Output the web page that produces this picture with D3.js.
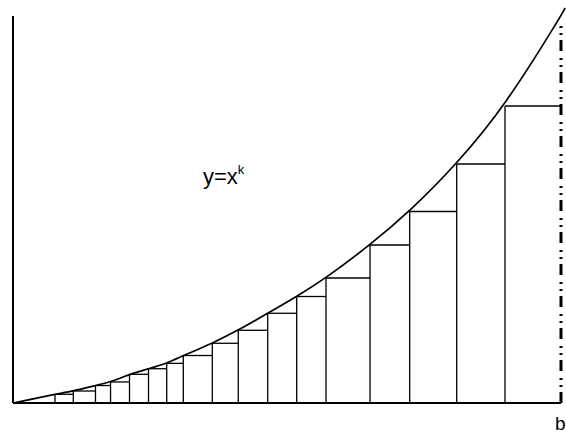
<!DOCTYPE html>
<html>
<head>
<meta charset="utf-8">
<script src="https://cdn.jsdelivr.net/npm/d3@7"></script>
<style>
  html, body { margin: 0; padding: 0; background: #fff; }
  svg { display: block; }
</style>
</head>
<body>
<svg id="chart" width="566" height="435"></svg>
<script>
// Partition points (fraction of b)
const partitionX = [0.0766, 0.110, 0.1505, 0.178, 0.2126, 0.2473, 0.2805, 0.3108, 0.3637, 0.4111,
                    0.4648, 0.5177, 0.5712, 0.6515, 0.7239, 0.8097, 0.8978, 1.0];
// Curve heights at those points (fraction of f(b))
const partitionY = [0.0225, 0.031, 0.0452, 0.0543, 0.0742, 0.0886, 0.1025, 0.1227, 0.1543, 0.1879,
                    0.2318, 0.2752, 0.323, 0.4083, 0.4948, 0.6176, 0.7674, 1.0];
// Curve continues a little past b
const curveEnd = [1.0073, 1.0207];
const bValue = 1.0;
const curveLabel = "y=x";
const curveLabelSup = "k";
const bLabel = "b";

const svg = d3.select("#chart");
const x = d3.scaleLinear().domain([0, 1]).range([13, 561]);
const y = d3.scaleLinear().domain([0, 1]).range([403, 16]);

// Curve points
const curvePts = [[0, 0]].concat(partitionX.map((d, i) => [d, partitionY[i]])).concat([curveEnd]);

// Vertical lines of partition (excluding b which is dash-dot)
const verts = partitionX.slice(0, -1).map((d, i) => ({x: d, h: partitionY[i]}));
svg.append("g").selectAll("line").data(verts).join("line")
  .attr("x1", d => x(d.x)).attr("x2", d => x(d.x))
  .attr("y1", y(0)).attr("y2", d => y(d.h))
  .attr("stroke", "#000").attr("stroke-width", 1.3);

// Horizontal tops: from x_i at height f(x_i) to x_{i+1}
const tops = partitionX.slice(0, -1).map((d, i) => ({x0: d, x1: partitionX[i + 1], h: partitionY[i]}));
svg.append("g").selectAll("line").data(tops).join("line")
  .attr("x1", d => x(d.x0)).attr("x2", d => x(d.x1))
  .attr("y1", d => y(d.h)).attr("y2", d => y(d.h))
  .attr("stroke", "#000").attr("stroke-width", 1.3);

// Dash-dot line at b
svg.append("line")
  .attr("x1", x(bValue)).attr("x2", x(bValue))
  .attr("y1", y(0)).attr("y2", y(0.98))
  .attr("stroke", "#000").attr("stroke-width", 3)
  .attr("stroke-dasharray", "11,5,2,5,2,7");

// Axes
svg.append("line")
  .attr("x1", x(0)).attr("x2", x(bValue))
  .attr("y1", y(0)).attr("y2", y(0))
  .attr("stroke", "#000").attr("stroke-width", 1.8);
svg.append("line")
  .attr("x1", x(0)).attr("x2", x(0))
  .attr("y1", y(0)).attr("y2", y(1))
  .attr("stroke", "#000").attr("stroke-width", 2);

// Curve
const line = d3.line().x(d => x(d[0])).y(d => y(d[1])).curve(d3.curveBasis);
svg.append("path").datum(curvePts)
  .attr("d", line).attr("fill", "none")
  .attr("stroke", "#000").attr("stroke-width", 1.7);

// Labels
const t = svg.append("text")
  .attr("x", 203).attr("y", 184)
  .attr("font-family", "Liberation Sans, Arial, sans-serif")
  .attr("font-size", 22).attr("fill", "#000");
t.append("tspan").text(curveLabel);
t.append("tspan").attr("font-size", 13).attr("dy", -10).text(curveLabelSup);

svg.append("text")
  .attr("x", 555).attr("y", 430)
  .attr("font-family", "Liberation Sans, Arial, sans-serif")
  .attr("font-size", 19).attr("fill", "#000")
  .text(bLabel);
</script>
</body>
</html>
